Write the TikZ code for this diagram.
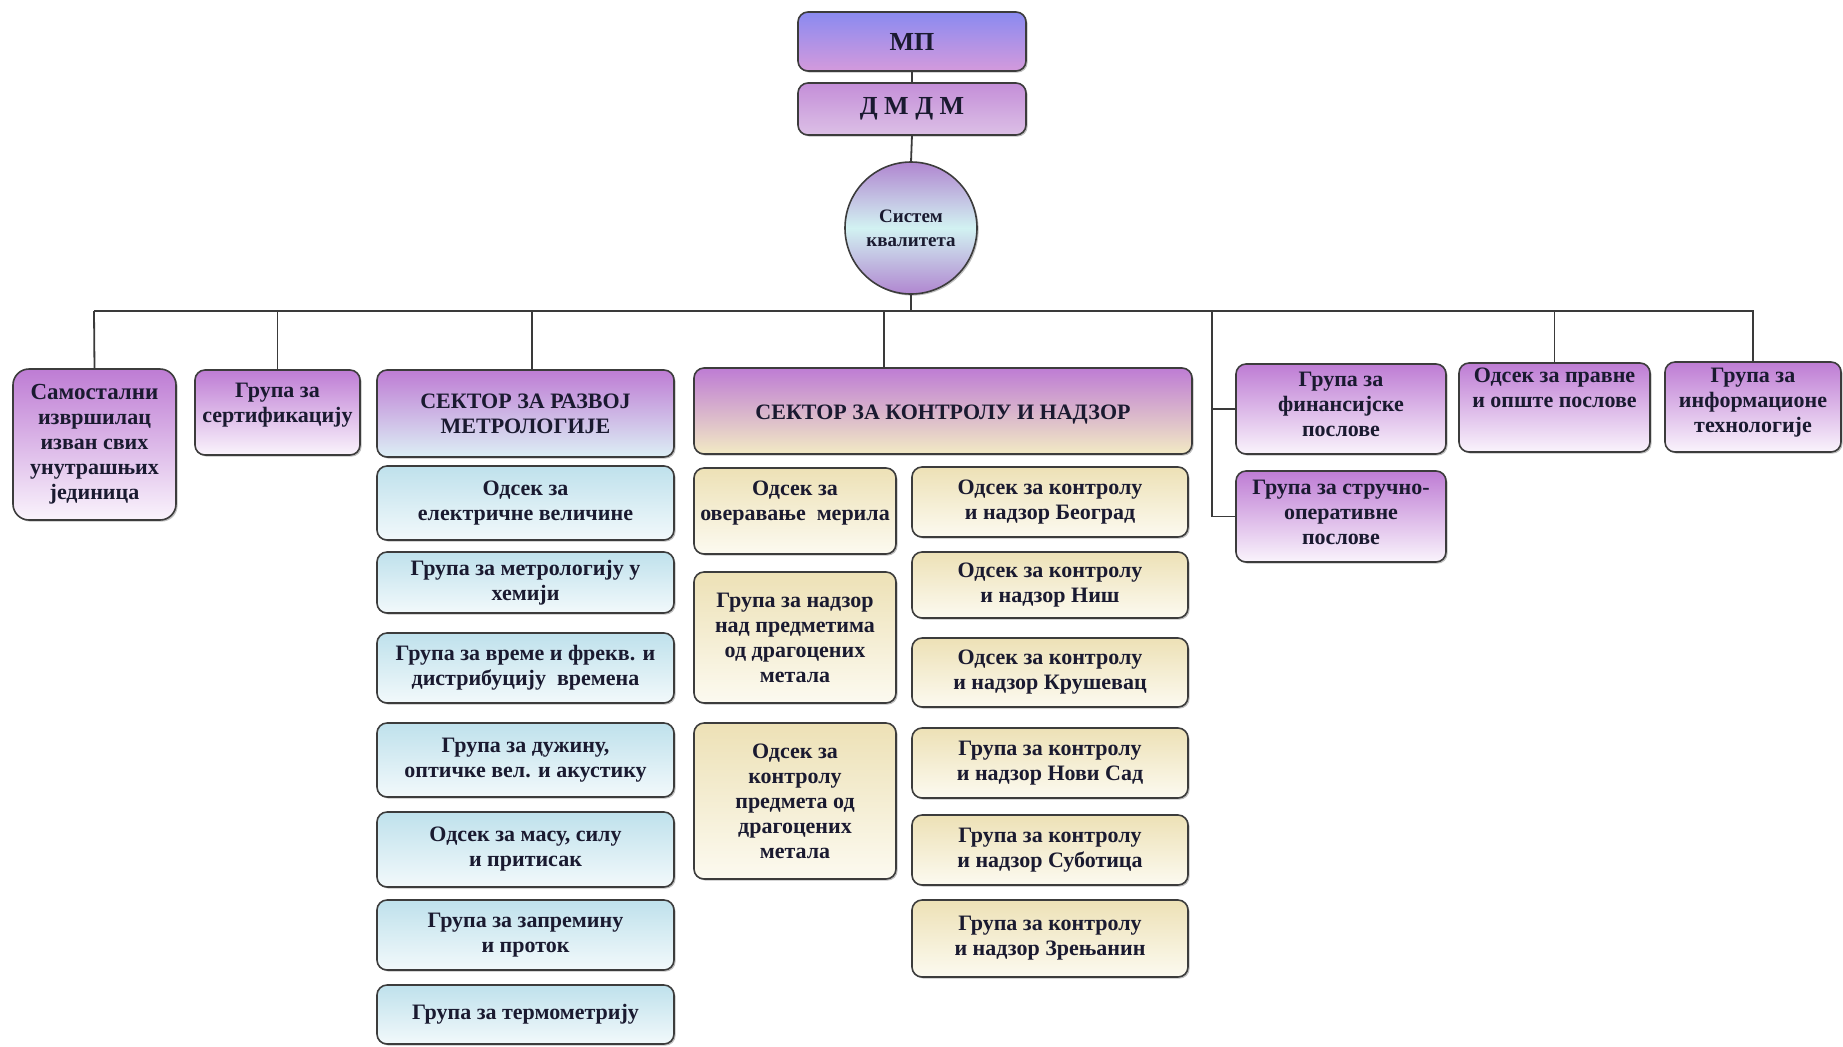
\documentclass[tikz,border=0pt]{standalone}
\usepackage{fontspec}
\setmainfont{Liberation Serif}
\usetikzlibrary{shadows}
\definecolor{bordc}{HTML}{3C3C3C}
\definecolor{connc}{HTML}{3A3A3A}
\definecolor{txtc}{HTML}{1A1A30}
\definecolor{mpT}{HTML}{8A8AF0}
\definecolor{mpB}{HTML}{D49ADC}
\definecolor{dmT}{HTML}{C48ED8}
\definecolor{dmB}{HTML}{DCC0E6}
\definecolor{qsE}{HTML}{B086D0}
\definecolor{qsM}{HTML}{D2F2F2}
\definecolor{pT}{HTML}{BE7CD4}
\definecolor{pB}{HTML}{FAF4FC}
\definecolor{rzB}{HTML}{DCEFF5}
\definecolor{blT}{HTML}{BFE1EC}
\definecolor{blB}{HTML}{F2F9FB}
\definecolor{knB}{HTML}{F2EAC4}
\definecolor{yT}{HTML}{EDE1B6}
\definecolor{yB}{HTML}{FCFAF0}
\newcommand\orgbox[8]{%
  \pgfmathsetmacro\obw{(#5-#3)*0.5}%
  \pgfmathsetmacro\obh{(#6-#4)*0.5}%
  \node[#2, minimum width=\obw pt, minimum height=\obh pt] (#1) at ({(#3+#5)/2},{(#4+#6)/2}) {};
  \node[txt] (#1t) at ([yshift=#7 pt]#1.center) {#8};
}
\begin{document}
\begin{tikzpicture}[x=0.5pt,y=-0.5pt,
  box/.style={rectangle, rounded corners=5pt, draw=bordc, line width=0.8pt, outer sep=0pt, inner sep=0pt,
    drop shadow={shadow xshift=0.8pt, shadow yshift=-0.8pt, opacity=0.25, fill=black}},
  pbox/.style={box, top color=pT, bottom color=pB},
  mpbox/.style={box, top color=mpT, bottom color=mpB},
  dmbox/.style={box, top color=dmT, bottom color=dmB},
  rzbox/.style={box, top color=pT, bottom color=rzB},
  knbox/.style={box, top color=pT, bottom color=knB},
  blbox/.style={box, top color=blT, bottom color=blB},
  ybox/.style={box, top color=yT, bottom color=yB},
  txt/.style={align=center, font=\fontsize{11}{12.5}\selectfont\bfseries, text=txtc, inner sep=0pt},
  conn/.style={draw=connc, line width=0.9pt}
]
\fill[white] (0,0) rectangle (1843,1046);
\useasboundingbox (0,0) rectangle (1843,1046);

% top
\orgbox{mp}{mpbox}{798}{12}{1026}{71}{0}{\fontsize{13}{15}\selectfont МП}
\orgbox{dmdm}{dmbox}{798}{83}{1026}{135}{0}{\fontsize{13}{15}\selectfont Д М Д М}
\node[circle, draw=bordc, line width=0.8pt, minimum size=66pt, inner sep=0pt, outer sep=0pt,
  top color=qsE, bottom color=qsE, middle color=qsM,
  drop shadow={shadow xshift=0.8pt, shadow yshift=-0.8pt, opacity=0.25, fill=black}] (qs) at (911,228) {};
\node[txt, font=\fontsize{9.5}{12}\selectfont\bfseries] (qst) at (qs.center) {Систем\\квалитета};

% first row
\orgbox{samo}{pbox, rounded corners=8pt}{13}{369}{176}{520}{0}{\fontsize{11.5}{11.5}\selectfont Самостални\\извршилац\\изван свих\\унутрашњих\\јединица}
\orgbox{sert}{pbox}{195}{370}{360}{455}{3.5}{Група за\\сертификацију}
\orgbox{razvoj}{rzbox}{377}{370}{674}{457}{0}{СЕКТОР ЗА РАЗВОЈ\\МЕТРОЛОГИЈЕ}
\orgbox{kontrola}{knbox}{694}{368}{1192}{454}{-2}{СЕКТОР ЗА КОНТРОЛУ И НАДЗОР}
\orgbox{fin}{pbox}{1236}{364}{1446}{454}{2.5}{Група за\\финансијске\\послове}
\orgbox{str}{pbox}{1236}{471}{1446}{562}{2}{Група за стручно-\\оперативне\\послове}
\orgbox{prav}{pbox}{1459}{363}{1650}{452}{10}{Одсек за правне\\и опште послове}
\orgbox{info}{pbox}{1665}{362}{1841}{452}{2}{Група за\\информационе\\технологије}

% blue column
\orgbox{b1}{blbox}{377}{466}{674}{540}{0}{Одсек за\\електричне величине}
\orgbox{b2}{blbox}{377}{552}{674}{613}{0}{Група за метрологију у\\хемији}
\orgbox{b3}{blbox}{377}{633}{674}{703}{0}{Група за време и фрекв. и\\дистрибуцију~~времена}
\orgbox{b4}{blbox}{377}{723}{674}{797}{0}{Група за дужину,\\оптичке вел. и акустику}
\orgbox{b5}{blbox}{377}{812}{674}{887}{0}{Одсек за масу, силу\\и притисак}
\orgbox{b6}{blbox}{377}{900}{674}{970}{0}{Група за запремину\\и проток}
\orgbox{b7}{blbox}{377}{985}{674}{1044}{0}{Група за термометрију}

% yellow left
\orgbox{y1}{ybox}{694}{468}{896}{554}{4}{Одсек за\\оверавање~~мерила}
\orgbox{y2}{ybox}{694}{572}{896}{703}{0}{Група за надзор\\над предметима\\од драгоцених\\метала}
\orgbox{y3}{ybox}{694}{723}{896}{879}{0}{Одсек за\\контролу\\предмета од\\драгоцених\\метала}

% yellow right
\orgbox{r1}{ybox}{912}{467}{1188}{537}{0}{Одсек за контролу\\и надзор Београд}
\orgbox{r2}{ybox}{912}{552}{1188}{618}{0}{Одсек за контролу\\и надзор Ниш}
\orgbox{r3}{ybox}{912}{638}{1188}{707}{0}{Одсек за контролу\\и надзор Крушевац}
\orgbox{r4}{ybox}{912}{728}{1188}{798}{0}{Група за контролу\\и надзор Нови Сад}
\orgbox{r5}{ybox}{912}{815}{1188}{885}{0}{Група за контролу\\и надзор Суботица}
\orgbox{r6}{ybox}{912}{900}{1188}{977}{0}{Група за контролу\\и надзор Зрењанин}

% connectors
\coordinate (busL) at (94,311);
\coordinate (busR) at (1754,311);
\coordinate (busC) at (911,311);
\coordinate (busR3) at (532,311);
\coordinate (busK) at (884,311);
\coordinate (busF) at (1212,311);
\draw[conn] (mp.south) -- (dmdm.north);
\draw[conn] (dmdm.south) -- (qs.north);
\draw[conn] (qs.south) -- (busC);
\draw[conn] (busL) -- (busR);
\draw[conn] (busL) -- (samo.north);
\draw[conn] (sert.north |- busL) -- (sert.north);
\draw[conn] (busR3) -- (busR3 |- razvoj.north);
\draw[conn] (busK) -- (busK |- kontrola.north);
\draw[conn] (busF) |- (str.west);
\draw[conn] (busF |- fin.west) -- (fin.west);
\draw[conn] (prav.north |- busL) -- (prav.north);
\draw[conn] (info.north |- busL) -- (info.north);
\end{tikzpicture}
\end{document}
